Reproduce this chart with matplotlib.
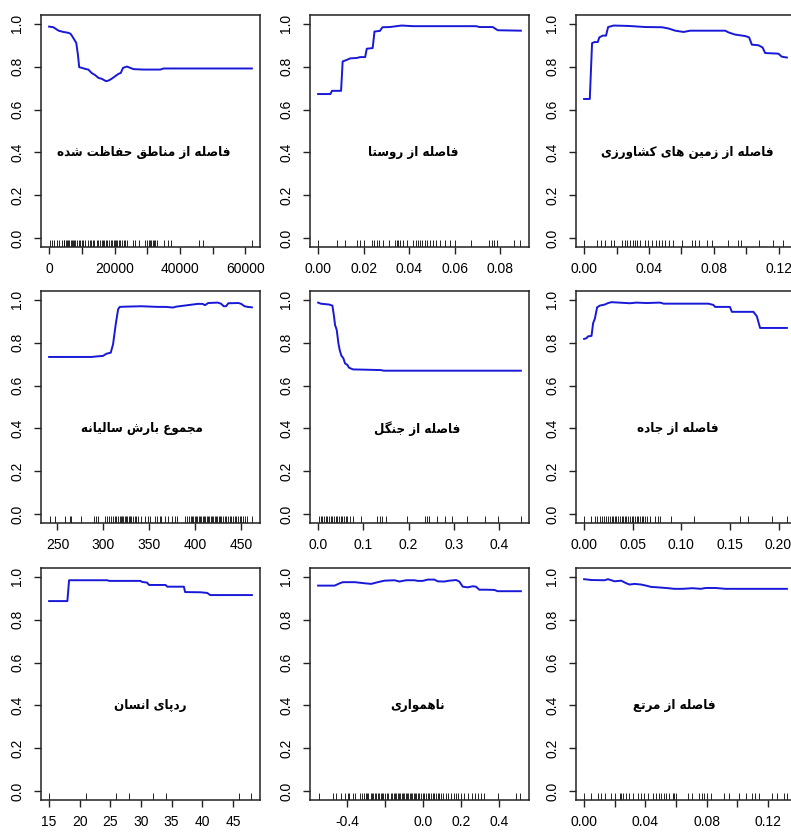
import matplotlib
matplotlib.use("Agg")
import matplotlib.pyplot as plt
import numpy as np

# ---------------- data ----------------
titles = [
    "فاصله از مناطق حفاظت شده",
    "فاصله از روستا",
    "فاصله از زمین های کشاورزی",
    "مجموع بارش سالیانه",
    "فاصله از جنگل",
    "فاصله از جاده",
    "ردپای انسان",
    "ناهمواری",
    "فاصله از مرتع",
]

x1 = [0, 1300, 2900, 4400, 5900, 6600, 7400, 8300, 8800, 9200, 10000, 11300, 12000, 13000, 14100,
      15100, 16100, 17400, 18200, 19200, 20200, 21200, 21900, 22600, 23800, 24800, 25800, 28900,
      34000, 35000, 62000]
y1 = [0.986, 0.983, 0.967, 0.961, 0.957, 0.952, 0.933, 0.91, 0.856, 0.797, 0.794, 0.788, 0.786, 0.770,
      0.760, 0.747, 0.743, 0.732, 0.735, 0.744, 0.755, 0.766, 0.770, 0.794, 0.800, 0.794, 0.788, 0.786,
      0.786, 0.791, 0.791]
rug1 = [300, 800, 1600, 2350, 3150, 3900, 4400, 4700, 5100, 5400, 5900, 6200, 6600, 6950, 7250, 7650,
        7950, 8450, 9000, 9500, 10000, 10500, 11000, 11750, 12350, 12750, 13350, 13800, 14600, 15100,
        15600, 16100, 16450, 16850, 17450, 17850, 18450, 18900, 19200, 19700, 20200, 20500, 20900,
        21300, 21750, 22250, 22750, 23250, 23800, 25600, 26300, 27350, 29400, 29900, 30400, 30900,
        31200, 31650, 31950, 32450, 32950, 35000, 36500, 37250, 45700, 46950, 62000]

x2 = [0, 0.0054, 0.0061, 0.0101, 0.0108, 0.0124, 0.0141, 0.0170, 0.0185, 0.0207, 0.0214, 0.0240,
      0.0248, 0.0272, 0.0283, 0.0316, 0.0367, 0.0418, 0.0695, 0.071, 0.0768, 0.079, 0.0892]
y2 = [0.672, 0.672, 0.687, 0.687, 0.824, 0.830, 0.838, 0.840, 0.844, 0.844, 0.883, 0.886, 0.963,
      0.966, 0.983, 0.984, 0.991, 0.988, 0.988, 0.984, 0.984, 0.969, 0.967]
rug2 = [0, 0.0083, 0.0119, 0.0170, 0.0185, 0.0200, 0.0236, 0.0246, 0.0258, 0.0268, 0.0287, 0.0312,
        0.0338, 0.0345, 0.0353, 0.0360, 0.0375, 0.0393, 0.0418, 0.0430, 0.0440, 0.0447, 0.0459,
        0.0469, 0.0479, 0.0491, 0.0506, 0.0520, 0.0535, 0.0557, 0.0579, 0.0600, 0.0673, 0.0753,
        0.0765, 0.0775, 0.0785, 0.0863, 0.0887]

x3 = [0, 0.0035, 0.0049, 0.0064, 0.0084, 0.0094, 0.0115, 0.0135, 0.0148, 0.0183, 0.0275, 0.0377,
      0.048, 0.0521, 0.0562, 0.0613, 0.0654, 0.087, 0.089, 0.093, 0.0993, 0.1017, 0.1034, 0.1075,
      0.110, 0.1116, 0.1198, 0.1218, 0.125]
y3 = [0.649, 0.649, 0.909, 0.914, 0.914, 0.936, 0.944, 0.944, 0.984, 0.991, 0.989, 0.984, 0.983,
      0.977, 0.967, 0.961, 0.967, 0.967, 0.959, 0.949, 0.942, 0.936, 0.902, 0.899, 0.889, 0.863,
      0.860, 0.846, 0.842]
rug3 = [0, 0.0080, 0.0107, 0.0131, 0.0168, 0.0183, 0.0234, 0.0250, 0.0265, 0.0285, 0.0299, 0.0316,
        0.0328, 0.0347, 0.0377, 0.0394, 0.0418, 0.0443, 0.0459, 0.0480, 0.0501, 0.0521, 0.0546,
        0.0603, 0.0665, 0.0685, 0.0706, 0.0757, 0.0788, 0.0890, 0.0948, 0.0968, 0.1075, 0.1167,
        0.1229]

x4 = [240.9, 287, 294.2, 299.6, 303.3, 308, 310.5, 313.4, 316, 317.8, 323, 341, 359.4, 368, 375.7,
      379, 391.7, 402.5, 408, 410.5, 414, 424.3, 428, 431, 433.5, 436, 447, 450, 453.6, 457, 461.6]
y4 = [0.733, 0.733, 0.736, 0.738, 0.748, 0.753, 0.792, 0.885, 0.955, 0.966, 0.967, 0.969, 0.966,
      0.966, 0.963, 0.967, 0.974, 0.980, 0.980, 0.974, 0.984, 0.986, 0.981, 0.969, 0.969, 0.983,
      0.984, 0.980, 0.969, 0.966, 0.964]
rug4 = [241.7, 247.1, 258, 263.4, 265.2, 276.1, 289.9, 292.4, 294.2, 302.2, 304.3, 305.8, 307.9,
        310.5, 312.3, 314.1, 315.9, 317.8, 318.8, 320.3, 321.7, 323.2, 324.6, 326.1, 327.5, 329,
        330.4, 332.2, 334.1, 335.9, 337.7, 340.6, 344.9, 348.6, 350.4, 355.8, 358.7, 361.2, 363,
        366.7, 370.3, 374.6, 377.5, 380.4, 388.4, 390.6, 392.8, 394.9, 396.4, 397.8, 399.3, 400.7,
        402.2, 403.6, 405.1, 406.5, 408, 409.4, 410.9, 412.3, 413.8, 415.2, 416.7, 418.1, 419.6,
        421, 422.5, 423.9, 425.4, 426.8, 428.3, 430.1, 431.9, 433.7, 435.5, 437.3, 439.1, 440.9,
        442.8, 444.6, 446.4, 448.2, 450, 451.8, 453.6, 456.5, 461.6]

x5 = [0, 0.0059, 0.0242, 0.0316, 0.0352, 0.0374, 0.0411, 0.0448, 0.0477, 0.0514, 0.0558, 0.0595,
      0.0646, 0.0683, 0.0771, 0.0976, 0.138, 0.145, 0.448]
y5 = [0.986, 0.981, 0.977, 0.972, 0.921, 0.882, 0.859, 0.797, 0.765, 0.739, 0.727, 0.703, 0.696,
      0.683, 0.675, 0.674, 0.672, 0.669, 0.669]
rug5 = [0.0022, 0.0059, 0.0095, 0.0132, 0.0169, 0.0206, 0.0242, 0.0279, 0.0316, 0.0352, 0.0389,
        0.0426, 0.0462, 0.0499, 0.0536, 0.0572, 0.0609, 0.0646, 0.0697, 0.0771, 0.0939, 0.1306,
        0.1358, 0.1417, 0.1505, 0.1967, 0.2356, 0.2407, 0.2444, 0.2628, 0.2811, 0.2958, 0.3288,
        0.3677, 0.3985, 0.4484]

x6 = [0, 0.0024, 0.0041, 0.0076, 0.0093, 0.011, 0.0134, 0.0162, 0.0213, 0.0247, 0.0282, 0.047,
      0.054, 0.0643, 0.078, 0.0821, 0.0986, 0.128, 0.133, 0.1347, 0.150, 0.152, 0.1742, 0.1777,
      0.181, 0.2086]
y6 = [0.817, 0.820, 0.829, 0.831, 0.891, 0.910, 0.964, 0.972, 0.977, 0.984, 0.988, 0.983, 0.986,
      0.984, 0.986, 0.981, 0.981, 0.981, 0.975, 0.966, 0.966, 0.943, 0.943, 0.922, 0.868, 0.868]
rug6 = [0, 0.0076, 0.011, 0.0137, 0.0162, 0.0179, 0.0203, 0.023, 0.0247, 0.0265, 0.0282, 0.0299,
        0.0316, 0.0333, 0.0351, 0.0368, 0.0385, 0.0402, 0.0419, 0.0436, 0.0454, 0.0471, 0.0488,
        0.0505, 0.0522, 0.054, 0.0557, 0.0574, 0.0591, 0.0608, 0.0625, 0.0649, 0.0677, 0.0729,
        0.0763, 0.078, 0.089, 0.1131, 0.1605, 0.1691, 0.1931, 0.2086]

x7 = [15, 17.98, 18.26, 24.5, 24.8, 29.9, 30.2, 31.0, 31.3, 34.0, 34.3, 37.0, 37.2, 39.7, 40.8,
      41.3, 48.1]
y7 = [0.886, 0.886, 0.983, 0.983, 0.980, 0.980, 0.975, 0.972, 0.961, 0.961, 0.953, 0.953, 0.928,
      0.927, 0.924, 0.914, 0.914]
rug7 = [15, 21.1, 26.0, 28.0, 32.0, 34.0, 46.0, 48.0]

x8 = [-0.554, -0.467, -0.440, -0.424, -0.361, -0.31, -0.275, -0.24, -0.205, -0.152, -0.126, -0.091,
      -0.047, -0.03, -0.003, 0.023, 0.058, 0.075, 0.11, 0.137, 0.172, 0.189, 0.207, 0.233, 0.26,
      0.277, 0.294, 0.329, 0.373, 0.391, 0.425, 0.513]
y8 = [0.958, 0.958, 0.969, 0.974, 0.974, 0.969, 0.966, 0.974, 0.981, 0.983, 0.977, 0.983, 0.983,
      0.980, 0.980, 0.986, 0.986, 0.978, 0.977, 0.981, 0.984, 0.977, 0.953, 0.950, 0.955, 0.953,
      0.939, 0.939, 0.938, 0.932, 0.932, 0.932]
rug8 = [-0.551, -0.476, -0.459, -0.432, -0.415, -0.397, -0.389, -0.371, -0.359, -0.336, -0.324,
        -0.310, -0.301, -0.296, -0.289, -0.278, -0.271, -0.264, -0.257, -0.249, -0.240, -0.231,
        -0.222, -0.217, -0.210, -0.201, -0.194, -0.184, -0.173, -0.165, -0.156, -0.149, -0.142,
        -0.135, -0.128, -0.121, -0.114, -0.107, -0.100, -0.093, -0.086, -0.079, -0.072, -0.065,
        -0.058, -0.051, -0.044, -0.037, -0.030, -0.021, -0.012, -0.004, 0.005, 0.014, 0.023,
        0.032, 0.040, 0.049, 0.058, 0.067, 0.075, 0.084, 0.093, 0.105, 0.119, 0.131, 0.145,
        0.159, 0.172, 0.184, 0.198, 0.215, 0.236, 0.254, 0.271, 0.289, 0.303, 0.317, 0.390,
        0.487, 0.509]

x9 = [0, 0.0048, 0.0134, 0.0156, 0.0199, 0.0242, 0.0275, 0.0296, 0.0329, 0.0372, 0.0404, 0.0437,
      0.048, 0.0534, 0.0588, 0.0642, 0.0707, 0.0761, 0.0794, 0.0858, 0.0923, 0.1323]
y9 = [0.988, 0.984, 0.983, 0.988, 0.978, 0.981, 0.969, 0.963, 0.966, 0.963, 0.958, 0.952, 0.950,
      0.947, 0.943, 0.943, 0.946, 0.943, 0.947, 0.947, 0.943, 0.943]
rug9 = [0, 0.0048, 0.0091, 0.0112, 0.0134, 0.0177, 0.0199, 0.0231, 0.0242, 0.0253, 0.0275, 0.0296,
        0.0318, 0.0350, 0.0372, 0.0394, 0.0415, 0.0447, 0.0469, 0.0486, 0.0502, 0.0523, 0.0534,
        0.0556, 0.0577, 0.0588, 0.0599, 0.0675, 0.0703, 0.075, 0.0772, 0.0783, 0.0804, 0.0826,
        0.0912, 0.0945, 0.1010, 0.1053, 0.1096, 0.1118, 0.1139, 0.1226, 0.1258, 0.1302, 0.1323]

xticks = [
    [0, 10000, 20000, 30000, 40000, 50000, 60000],
    [0.00, 0.02, 0.04, 0.06, 0.08],
    [0.00, 0.02, 0.04, 0.06, 0.08, 0.10, 0.12],
    [250, 300, 350, 400, 450],
    [0.0, 0.1, 0.2, 0.3, 0.4],
    [0.00, 0.05, 0.10, 0.15, 0.20],
    [15, 20, 25, 30, 35, 40, 45],
    [-0.4, -0.2, 0.0, 0.2, 0.4],
    [0.00, 0.02, 0.04, 0.06, 0.08, 0.10, 0.12],
]
xticklabels = [
    ["0", "", "20000", "", "40000", "", "60000"],
    ["0.00", "0.02", "0.04", "0.06", "0.08"],
    ["0.00", "", "0.04", "", "0.08", "", "0.12"],
    ["250", "300", "350", "400", "450"],
    ["0.0", "0.1", "0.2", "0.3", "0.4"],
    ["0.00", "0.05", "0.10", "0.15", "0.20"],
    ["15", "20", "25", "30", "35", "40", "45"],
    ["-0.4", "", "0.0", "0.2", "0.4"],
    ["0.00", "", "0.04", "", "0.08", "", "0.12"],
]
yticks = [0.0, 0.2, 0.4, 0.6, 0.8, 1.0]
yticklabels = ["0.0", "0.2", "0.4", "0.6", "0.8", "1.0"]

xs = [x1, x2, x3, x4, x5, x6, x7, x8, x9]
ys = [y1, y2, y3, y4, y5, y6, y7, y8, y9]
rugs = [rug1, rug2, rug3, rug4, rug5, rug6, rug7, rug8, rug9]

# ---------------- Persian shaping (presentation forms) ----------------
FORMS = {
    "ا": ("\uFE8D", "\uFE8E", None, None),
    "ب": ("\uFE8F", "\uFE90", "\uFE91", "\uFE92"),
    "پ": ("\uFB56", "\uFB57", "\uFB58", "\uFB59"),
    "ت": ("\uFE95", "\uFE96", "\uFE97", "\uFE98"),
    "ج": ("\uFE9D", "\uFE9E", "\uFE9F", "\uFEA0"),
    "ح": ("\uFEA1", "\uFEA2", "\uFEA3", "\uFEA4"),
    "د": ("\uFEA9", "\uFEAA", None, None),
    "ر": ("\uFEAD", "\uFEAE", None, None),
    "ز": ("\uFEAF", "\uFEB0", None, None),
    "س": ("\uFEB1", "\uFEB2", "\uFEB3", "\uFEB4"),
    "ش": ("\uFEB5", "\uFEB6", "\uFEB7", "\uFEB8"),
    "ص": ("\uFEB9", "\uFEBA", "\uFEBB", "\uFEBC"),
    "ط": ("\uFEC1", "\uFEC2", "\uFEC3", "\uFEC4"),
    "ظ": ("\uFEC5", "\uFEC6", "\uFEC7", "\uFEC8"),
    "ع": ("\uFEC9", "\uFECA", "\uFECB", "\uFECC"),
    "ف": ("\uFED1", "\uFED2", "\uFED3", "\uFED4"),
    "ق": ("\uFED5", "\uFED6", "\uFED7", "\uFED8"),
    "ک": ("\uFB8E", "\uFB8F", "\uFB90", "\uFB91"),
    "گ": ("\uFB92", "\uFB93", "\uFB94", "\uFB95"),
    "ل": ("\uFEDD", "\uFEDE", "\uFEDF", "\uFEE0"),
    "م": ("\uFEE1", "\uFEE2", "\uFEE3", "\uFEE4"),
    "ن": ("\uFEE5", "\uFEE6", "\uFEE7", "\uFEE8"),
    "ه": ("\uFEE9", "\uFEEA", "\uFEEB", "\uFEEC"),
    "و": ("\uFEED", "\uFEEE", None, None),
    "ی": ("\uFBFC", "\uFBFD", "\uFBFE", "\uFBFF"),
}


def shape(text):
    out = []
    n = len(text)
    for i, ch in enumerate(text):
        if ch not in FORMS:
            out.append(ch)
            continue
        prev = text[i - 1] if i > 0 else None
        nxt = text[i + 1] if i < n - 1 else None
        join_prev = prev in FORMS and FORMS[prev][2] is not None
        join_next = FORMS[ch][2] is not None and nxt in FORMS
        iso, fin, ini, med = FORMS[ch]
        if join_prev and join_next:
            out.append(med)
        elif join_prev:
            out.append(fin)
        elif join_next:
            out.append(ini)
        else:
            out.append(iso)
    return "".join(out)[::-1]


# ---------------- layout ----------------
W, H = 791, 834
fig = plt.figure(figsize=(W / 100, H / 100), dpi=100)
fig.patch.set_facecolor("white")

col_left = [41, 310, 576]
row_top = [15, 291, 568]
aw, ah = 219, 232
label_x = [0.47, 0.47, 0.51, 0.46, 0.49, 0.465, 0.5, 0.49, 0.45]

tick_font = "Liberation Sans"

for k in range(9):
    r, c = divmod(k, 3)
    L = col_left[c]
    T = row_top[r]
    ax = fig.add_axes([L / W, 1 - (T + ah) / H, aw / W, ah / H])
    x = np.array(xs[k])
    rng = x.max() - x.min()
    ax.set_xlim(x.min() - 0.04 * rng, x.max() + 0.04 * rng)
    ax.set_ylim(-0.04, 1.04)
    ax.plot(xs[k], ys[k], color="#1818d8", lw=1.4, solid_joinstyle="round")
    ax.vlines(rugs[k], 0, 0.03, transform=ax.get_xaxis_transform(), color="black", lw=0.6)
    ax.set_xticks(xticks[k])
    ax.set_xticklabels(xticklabels[k], fontsize=10, family=tick_font)
    ax.set_yticks(yticks)
    ax.set_yticklabels(yticklabels, fontsize=10, family=tick_font, rotation=90, va="center")
    ax.tick_params(direction="out", length=5, width=1.0, color="#222222")
    ax.tick_params(axis="x", pad=6)
    ax.tick_params(axis="y", pad=7)
    for s in ax.spines.values():
        s.set_linewidth(1.1)
        s.set_color("#222222")
    ax.text(label_x[k], (0.4 + 0.04) / 1.08, shape(titles[k]), transform=ax.transAxes,
            fontsize=9.5, fontweight="bold", family="DejaVu Sans", fontstretch="condensed",
            ha="center", va="center")

fig.savefig("out.png", dpi=100, facecolor="white")
